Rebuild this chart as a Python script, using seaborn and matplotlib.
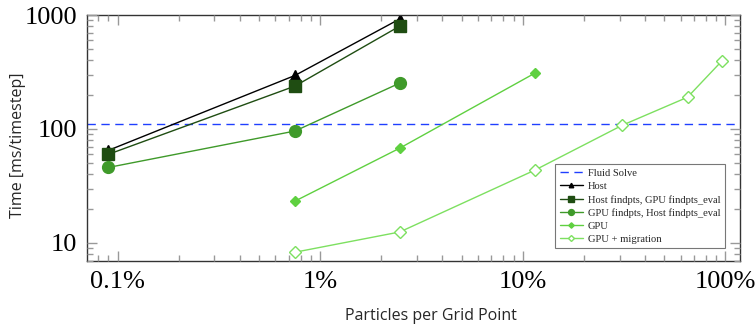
import numpy as np
import pandas as pd
import seaborn as sns
import matplotlib
matplotlib.use("Agg")
import matplotlib.pyplot as plt
from matplotlib.ticker import LogLocator, NullFormatter, FixedLocator, FixedFormatter

# ---- data (percent particles per grid point, ms/timestep) ----
fluid_solve = 111

host_x = [0.09, 0.75, 2.47]
host_y = [65, 295, 925]

hostfind_x = [0.09, 0.75, 2.47]
hostfind_y = [60, 238, 800]

gpufind_x = [0.09, 0.75, 2.47]
gpufind_y = [46, 96, 253]

gpu_x = [0.75, 2.47, 11.5]
gpu_y = [23.3, 68, 310]

gpumig_x = [0.75, 2.47, 11.5, 31, 65, 96]
gpumig_y = [8.3, 12.5, 43.7, 108, 190, 395]

series_names = ["Host", "Host findpts, GPU findpts_eval",
                "GPU findpts, Host findpts_eval", "GPU", "GPU + migration"]
xticks = [0.1, 1, 10, 100]
xticklabels = ["0.1%", "1%", "10%", "100%"]
yticks = [10, 100, 1000]
yticklabels = ["10", "100", "1000"]

sns.set_theme(style="white")
plt.rcParams['font.family'] = ['DejaVu Sans']
plt.rcParams.update({
    "xtick.bottom": True, "xtick.top": True,
    "ytick.left": True, "ytick.right": True,
    "xtick.direction": "in", "ytick.direction": "in",
    "xtick.major.size": 7, "ytick.major.size": 7,
    "xtick.minor.size": 4, "ytick.minor.size": 4,
    "xtick.major.width": 1.0, "ytick.major.width": 1.0,
    "xtick.minor.width": 1.0, "ytick.minor.width": 1.0,
    "xtick.color": "#999999", "ytick.color": "#999999",
    "xtick.labelcolor": "black", "ytick.labelcolor": "black",
    "axes.axisbelow": False,
})

fig = plt.figure(figsize=(7.56, 3.3), dpi=100)
ax = fig.add_axes([87/756, 69/330, (740-87)/756, (261-15)/330])

xs = [host_x, hostfind_x, gpufind_x, gpu_x, gpumig_x]
ys = [host_y, hostfind_y, gpufind_y, gpu_y, gpumig_y]
colors = ["#000000", "#1f4d12", "#3f9a2a", "#5fd040", "#7de060"]
markers = ["^", "s", "o", "D", "D"]
msizes = [6.5, 8.5, 8.5, 5.5, 6]
fills = [True, True, True, True, False]

# fluid solve line
ax.axhline(fluid_solve, color="#1f3fff", lw=1.0, ls=(0, (6, 4)), label="Fluid Solve")

for name, x, y, c, m, ms, f in zip(series_names, xs, ys, colors, markers, msizes, fills):
    df = pd.DataFrame({"x": x, "y": y})
    sns.lineplot(data=df, x="x", y="y", ax=ax, color=c, lw=1.0, marker=m,
                 markersize=ms, markeredgecolor=c,
                 markerfacecolor=(c if f else "white"), markeredgewidth=1.0,
                 label=name)

ax.set_xscale("log")
ax.set_yscale("log")
ax.set_xlim(0.0705, 118)
ax.set_ylim(6.95, 1000)

ax.xaxis.set_major_locator(FixedLocator(xticks))
ax.xaxis.set_major_formatter(FixedFormatter(xticklabels))
ax.yaxis.set_major_locator(FixedLocator(yticks))
ax.yaxis.set_major_formatter(FixedFormatter(yticklabels))
ax.xaxis.set_minor_locator(LogLocator(base=10, subs=np.arange(2, 10), numticks=20))
ax.yaxis.set_minor_locator(LogLocator(base=10, subs=np.arange(2, 10), numticks=20))
ax.xaxis.set_minor_formatter(NullFormatter())
ax.yaxis.set_minor_formatter(NullFormatter())

ax.tick_params(which="both", direction="in", top=True, right=True,
               bottom=True, left=True, color="#999999", width=1.0)
ax.tick_params(which="major", length=7)
ax.tick_params(which="minor", length=4)
ax.tick_params(axis="both", which="major", labelsize=19, pad=7, labelcolor="black")
for lab in ax.get_xticklabels() + ax.get_yticklabels():
    lab.set_family("Liberation Serif")

for s in ax.spines.values():
    s.set_color("#333333")
    s.set_linewidth(1.0)

ax.set_xlabel("Particles per Grid Point", family="Open Sans", fontsize=11.5)
ax.set_ylabel("Time [ms/timestep]", family="Open Sans", fontsize=11.5)
ax.xaxis.set_label_coords(0.527, -0.19)
ax.yaxis.set_label_coords(-0.094, 0.47)

leg = ax.legend(loc="lower right", bbox_to_anchor=(0.985, 0.03),
                prop={"family": "Liberation Serif", "size": 7.6},
                frameon=True, fancybox=False, edgecolor="#555555",
                handlelength=2.2, labelspacing=0.35, borderpad=0.4,
                handletextpad=0.5, markerscale=0.5)
leg.get_frame().set_linewidth(0.8)
leg.set_zorder(5)

fig.savefig("out.png", dpi=100)
